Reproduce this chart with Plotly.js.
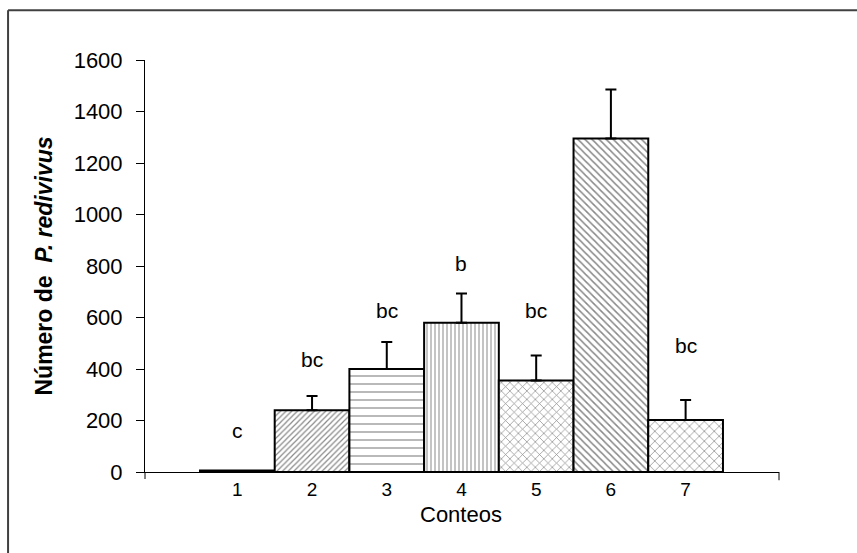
<!DOCTYPE html>
<html>
<head>
<meta charset="utf-8">
<script src="https://cdn.plot.ly/plotly-3.0.1.min.js"></script>
<style>html,body{margin:0;padding:0;background:#fff;}#chart{width:857px;height:553px;}</style>
</head>
<body>
<div id="chart"></div>
<script>
const categories = [1, 2, 3, 4, 5, 6, 7];
const tickLabels = ["1", "2", "3", "4", "5", "6", "7"];
const means = [6, 240, 400, 580, 355, 1295, 202];
const errors = [0, 55, 105, 113, 97, 190, 78];
const letters = ["c", "bc", "bc", "b", "bc", "a", "bc"];
const letterY = [163, 435, 629, 808, 629, 1639, 493];
const patternShapes = ["", "/", "-", "|", "x", "\\", "x"];
const xTitle = "Conteos";

const patSizes = [6, 4, 8, 4, 6, 5, 7];
const patSol = [0.3, 0.3, 0.15, 0.25, 0.22, 0.3, 0.2];

const traces = categories.map((c, i) => {
  const m = {
    color: i === 0 ? "#000" : "#fff",
    line: {color: "#000", width: 2}
  };
  if (patternShapes[i]) {
    m.pattern = {shape: patternShapes[i], fgcolor: "#111", size: patSizes[i], solidity: patSol[i], fillmode: "overlay"};
  }
  return {
    type: "bar",
    x: [c],
    y: [means[i]],
    width: 1,
    marker: m,
    error_y: {
      type: "data", symmetric: false,
      array: [errors[i]], arrayminus: [0],
      color: "#000", thickness: 2, width: 5.5, visible: errors[i] > 0
    },
    hoverinfo: "skip"
  };
});

const FONT = "Liberation Sans, Arial, sans-serif";
const annotations = letters.map((t, i) => ({
  x: categories[i], y: letterY[i], xref: "x", yref: "y",
  text: t, showarrow: false, yanchor: "middle", xanchor: "center",
  font: {family: FONT, size: 21, color: "#000"}
}));
annotations.push({
  x: 0.498, y: -0.104, xref: "paper", yref: "paper",
  text: xTitle, showarrow: false, xanchor: "center", yanchor: "middle",
  font: {family: FONT, size: 22, color: "#000"}
});

const layout = {
  width: 857, height: 553,
  margin: {l: 145, r: 78, t: 60, b: 81, pad: 0},
  paper_bgcolor: "#fff", plot_bgcolor: "#fff",
  showlegend: false,
  barmode: "overlay",
  font: {family: FONT, size: 22, color: "#000"},
  xaxis: {
    range: [-0.236, 8.25],
    tickvals: categories,
    ticktext: tickLabels,
    ticks: "",
    showgrid: false, zeroline: false,
    showline: true, linecolor: "#000", linewidth: 1,
    tickfont: {size: 19},
    fixedrange: true
  },
  yaxis: {
    range: [0, 1600],
    tickvals: [0, 200, 400, 600, 800, 1000, 1200, 1400, 1600],
    ticks: "outside", ticklen: 8, tickwidth: 1, tickcolor: "#000",
    ticklabelstandoff: 9,
    showgrid: false, zeroline: false,
    showline: true, linecolor: "#000", linewidth: 1,
    tickfont: {size: 22},
    title: {text: "<b>Número de  <i>P. redivivus</i></b>", standoff: 14, font: {size: 23}},
    fixedrange: true
  },
  annotations: annotations,
  shapes: [
    {type: "line", xref: "paper", yref: "paper", x0: 0, x1: 0, y0: 0, y1: -0.017, line: {color: "#000", width: 1}},
    {type: "line", xref: "paper", yref: "paper", x0: 1, x1: 1, y0: 0, y1: -0.02, line: {color: "#000", width: 1}},
    {type: "line", xref: "paper", yref: "paper", x0: -0.216, x1: 1.123, y0: 1.121, y1: 1.121, line: {color: "#404040", width: 2}},
    {type: "line", xref: "paper", yref: "paper", x0: -0.216, x1: -0.216, y0: 1.121, y1: -0.2, line: {color: "#404040", width: 2}}
  ]
};

Plotly.newPlot("chart", traces, layout, {displayModeBar: false, staticPlot: true});
</script>
</body>
</html>
